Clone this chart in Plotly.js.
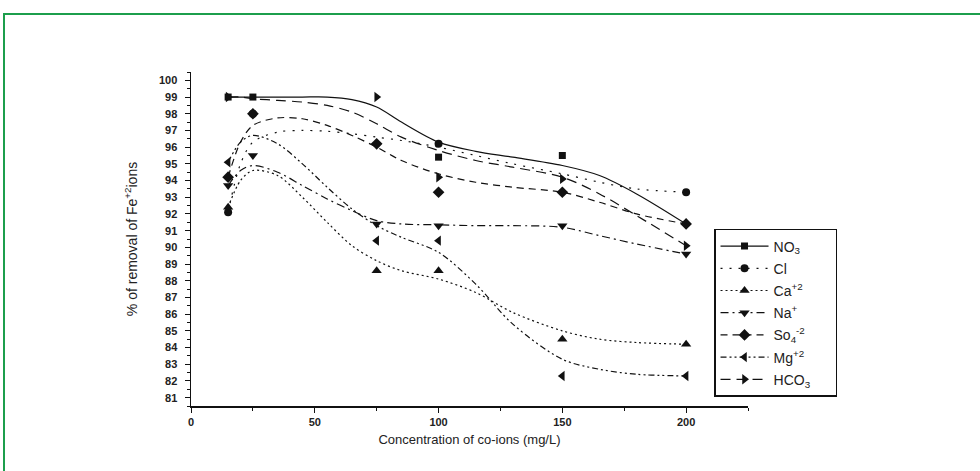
<!DOCTYPE html>
<html>
<head>
<meta charset="utf-8">
<script src="https://cdn.plot.ly/plotly-3.0.1.min.js"></script>
<style>
  html, body { margin:0; padding:0; background:#fff; }
  #wrap { position:relative; width:980px; height:471px; overflow:hidden; }
  #frame { position:absolute; left:3px; top:13px; width:990px; height:480px;
           border-top:2px solid #1c9e4c; border-left:2px solid #1c9e4c; box-sizing:border-box; }
  #chart { position:absolute; left:0; top:0; width:980px; height:471px; }
</style>
</head>
<body>
<div id="wrap"><div id="frame"></div><div id="chart"></div></div>
<script>
// ---- data ----
const conc = [15, 25, 75, 100, 150, 200];
const seriesNames = ["NO<sub>3</sub>", "Cl", "Ca<sup>+2</sup>", "Na<sup>+</sup>", "So<sub>4</sub><sup>-2</sup>", "Mg<sup>+2</sup>", "HCO<sub>3</sub>"];
const no3  = [99,   99,   null, 95.4, 95.5, null];
const cl   = [92.1, 98,   null, 96.2, null, 93.3];
const ca   = [92.4, null, 88.6, 88.6, 84.5, 84.2];
const na   = [93.7, 95.5, 91.4, 91.3, 91.3, 89.6];
const so4  = [94.2, 98,   96.2, 93.3, 93.3, 91.4];
const mg   = [95.1, null, 90.4, 90.4, 82.3, 82.3];
const hco3 = [99,   null, 99,   94.2, 94.1, 90.1];

// smoothed (B-spline) curves as drawn in the picture
const fitX    = [15, 20, 25, 35, 45, 55, 65, 75, 85, 100, 115, 130, 150, 165, 180, 200];
const no3Fit  = [99, 99, 99, 99, 99, 99, 98.85, 98.4, 97.5, 96.3, 95.75, 95.4, 94.9, 94.3, 93.2, 91.4];
const clFit   = [92.1, 95.0, 96.3, 96.9, 97.0, 96.95, 96.8, 96.6, 96.4, 96.0, 95.5, 95.0, 94.4, 93.9, 93.5, 93.3];
const caFit   = [92.4, 94.0, 94.6, 94.3, 93.0, 91.5, 90.1, 89.2, 88.6, 88.1, 87.3, 86.1, 85.0, 84.5, 84.3, 84.2];
const naFit   = [93.7, 94.6, 94.9, 94.5, 93.7, 92.9, 92.2, 91.6, 91.4, 91.35, 91.3, 91.3, 91.2, 90.7, 90.2, 89.6];
const so4Fit  = [94.2, 96.3, 97.3, 97.75, 97.7, 97.3, 96.7, 96.0, 95.2, 94.4, 93.9, 93.6, 93.3, 92.7, 92.0, 91.4];
const mgFit   = [95.1, 96.3, 96.7, 96.2, 95.0, 93.6, 92.3, 91.3, 90.6, 89.7, 87.8, 85.4, 83.3, 82.7, 82.4, 82.3];
const hco3Fit = [99, 99, 98.9, 98.8, 98.7, 98.5, 98.1, 97.4, 96.6, 95.8, 95.2, 94.8, 94.2, 93.2, 91.9, 90.1];

const xTicks = [0, 50, 100, 150, 200];

// ---- styles ----
const pts  = [no3, cl, ca, na, so4, mg, hco3];
const fits = [no3Fit, clFit, caFit, naFit, so4Fit, mgFit, hco3Fit];
const symbols = ["square", "circle", "triangle-up", "triangle-down", "diamond", "triangle-left", "triangle-right"];
const sizes   = [7, 8, 9, 9, 9, 9, 9];
const dashes  = ["solid", "2px,7px", "2px,3px", "8px,4px,2px,4px", "7px,5px", "6px,3px,2px,3px,2px,3px", "10px,6px"];

const traces = [];
for (let i = 0; i < pts.length; i++) {
  traces.push({
    x: fitX, y: fits[i], mode: "lines", type: "scatter",
    line: {color: "#111", width: 1.2, dash: dashes[i], shape: "spline", smoothing: 0.9},
    showlegend: false, hoverinfo: "skip", legendgroup: "g" + i
  });
}
for (let i = 0; i < pts.length; i++) {
  traces.push({
    x: conc, y: pts[i], mode: "markers", type: "scatter",
    marker: {symbol: symbols[i], size: sizes[i], color: "#111"},
    showlegend: false, legendgroup: "g" + i
  });
}
for (let i = 0; i < pts.length; i++) {
  traces.push({
    x: [null], y: [null], mode: "lines+markers", type: "scatter", name: seriesNames[i] + "&nbsp;&nbsp;&nbsp;&nbsp;&nbsp;",
    line: {color: "#111", width: 1.2, dash: dashes[i]},
    marker: {symbol: symbols[i], size: sizes[i], color: "#111"},
    legendgroup: "g" + i
  });
}

const font = "Liberation Sans, Arial, sans-serif";
const layout = {
  width: 980, height: 471,
  paper_bgcolor: "rgba(0,0,0,0)", plot_bgcolor: "rgba(0,0,0,0)",
  margin: {l: 191, r: 232, t: 72, b: 65},
  font: {family: font, color: "#222"},
  showlegend: true,
  legend: {
    x: 0.939, y: 0.53, xanchor: "left", yanchor: "top",
    bgcolor: "#fff", bordercolor: "#111", borderwidth: 1.5,
    font: {family: font, size: 14, color: "#222"},
    itemwidth: 48,
    tracegroupgap: 1
  },
  xaxis: {
    range: [0, 225], showgrid: false, zeroline: false,
    showline: true, linecolor: "#111", linewidth: 1.5,
    ticks: "outside", ticklen: 5, tickcolor: "#111",
    tickvals: xTicks, ticktext: xTicks.map(String),
    minor: {dtick: 25, tick0: 0, ticks: "outside", ticklen: 3, tickcolor: "#111"},
    tickfont: {family: font, size: 11, color: "#222", weight: "bold"},
    title: {text: "Concentration of co-ions (mg/L)", font: {family: font, size: 13, color: "#222"}, standoff: 8}
  },
  yaxis: {
    range: [80.5, 100.5], showgrid: false, zeroline: false,
    showline: true, linecolor: "#111", linewidth: 1.5,
    ticks: "outside", ticklen: 5, tickcolor: "#111",
    dtick: 1, tick0: 81,
    minor: {dtick: 0.5, ticks: "outside", ticklen: 3, tickcolor: "#111"},
    ticklabelstandoff: 5,
    tickfont: {family: font, size: 11, color: "#222", weight: "bold"},
    title: {text: "% of removal of Fe<sup>+2</sup>ions", font: {family: font, size: 14, color: "#222"}, standoff: 18}
  }
};

Plotly.newPlot("chart", traces, layout, {staticPlot: true, displayModeBar: false});
</script>
</body>
</html>
